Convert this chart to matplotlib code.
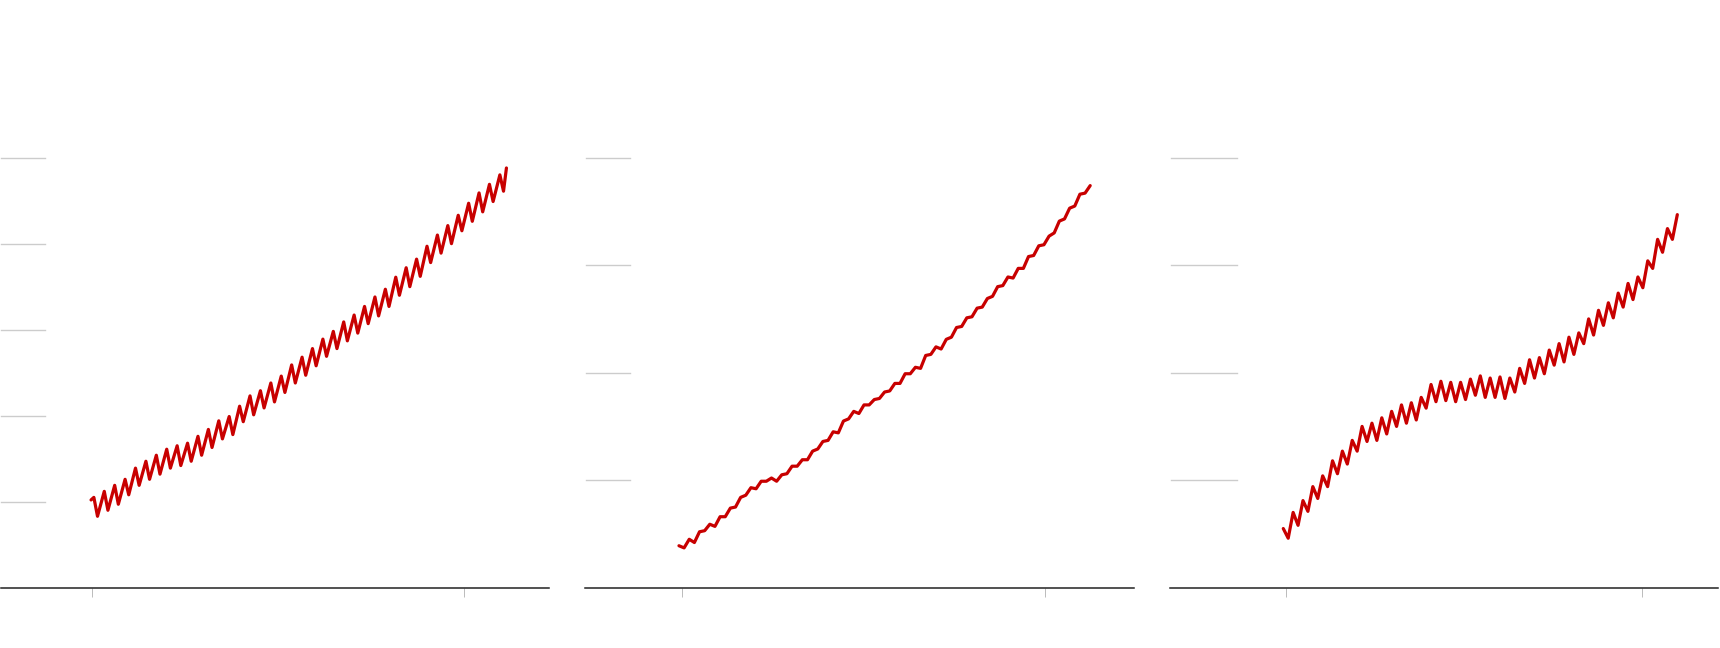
import numpy as np
import matplotlib
matplotlib.use('Agg')
import matplotlib.pyplot as plt

RED = '#c80000'
GRID = '#cccccc'

# panel 1: start, then (peak, trough) per cycle, then last point
p1_start = 10.2
p1_peaks = [10.5, 11.2, 11.9, 12.6, 13.9, 14.7, 15.4, 16.1, 16.5, 16.8,
            17.6, 18.4, 19.4, 19.9, 21.1, 22.3, 22.9, 23.8, 24.6, 25.9,
            26.8, 27.8, 28.9, 29.8, 30.9, 31.7, 32.7, 33.8, 34.7, 36.1,
            37.2, 38.2, 39.7, 41.0, 42.1, 43.3, 44.7, 45.9, 46.9, 48.0]
p1_troughs = [8.3, 9.0, 9.7, 10.8, 11.9, 12.6, 13.2, 13.9, 14.2, 14.7,
              15.4, 16.3, 17.3, 17.8, 19.3, 20.1, 20.9, 21.6, 22.7, 23.8,
              24.7, 25.8, 26.9, 27.8, 28.7, 29.6, 30.7, 31.6, 32.7, 34.0,
              35.0, 36.2, 37.8, 38.9, 40.0, 41.5, 42.6, 43.7, 44.9, 46.1]
p1_end = 48.8

# panel 2: half-year readings
p2_values = [3.9, 3.7, 4.5, 4.2, 5.2, 5.3, 5.9, 5.7, 6.6, 6.6,
             7.4, 7.5, 8.4, 8.6, 9.3, 9.2, 9.9, 9.9, 10.2, 9.9,
             10.5, 10.6, 11.3, 11.3, 11.9, 11.9, 12.7, 12.9, 13.6, 13.7,
             14.5, 14.4, 15.5, 15.7, 16.4, 16.2, 17.0, 17.0, 17.5, 17.6,
             18.2, 18.3, 19.0, 19.0, 19.9, 19.9, 20.5, 20.4, 21.6, 21.7,
             22.4, 22.2, 23.1, 23.3, 24.2, 24.3, 25.1, 25.2, 26.0, 26.1,
             26.9, 27.1, 28.0, 28.1, 28.9, 28.8, 29.7, 29.7, 30.8, 30.9,
             31.8, 31.9, 32.7, 33.0, 34.1, 34.3, 35.3, 35.5, 36.6, 36.7,
             37.4]

# panel 3: half-year readings
p3_values = [5.5, 4.6, 7.0, 5.8, 8.1, 7.1, 9.4, 8.3, 10.4, 9.4,
             11.8, 10.6, 12.7, 11.5, 13.7, 12.7, 15.0, 13.6, 15.3, 13.7,
             15.8, 14.3, 16.4, 15.0, 17.0, 15.3, 17.2, 15.6, 17.7, 16.7,
             18.9, 17.3, 19.2, 17.4, 19.1, 17.3, 19.1, 17.5, 19.4, 17.9,
             19.7, 17.7, 19.5, 17.7, 19.6, 17.6, 19.5, 18.2, 20.4, 19.0,
             21.2, 19.5, 21.4, 19.9, 22.1, 20.7, 22.7, 21.0, 23.3, 21.7,
             23.7, 22.7, 25.0, 23.5, 25.8, 24.4, 26.5, 25.1, 27.4, 26.1,
             28.3, 26.8, 28.9, 27.9, 30.4, 29.7, 32.4, 31.2, 33.4, 32.4,
             34.7]

p1_gridlines = [10, 20, 30, 40, 50]
p23_gridlines = [10, 20, 30, 40]
p1_ticks = [0.10, 35.85]
p2_ticks = [0.27, 35.56]
p3_ticks = [0.24, 36.42]


def panel1_series():
    xs = [0.0]
    ys = [p1_start]
    for k, (pk, tr) in enumerate(zip(p1_peaks, p1_troughs)):
        xs += [k + 0.27, k + 0.62]
        ys += [pk, tr]
    xs.append(39.9)
    ys.append(p1_end)
    return xs, ys


def draw_panel(ax, xs, ys, xlim, ylim, gridlines, grid_span, ticks):
    for g in gridlines:
        ax.axhline(g, xmin=grid_span[0], xmax=grid_span[1], color=GRID,
                   lw=1.0, clip_on=False, zorder=1)
    ax.plot(xs, ys, color=RED, lw=2.3, solid_joinstyle='round',
            solid_capstyle='round', zorder=3)
    ax.set_xlim(*xlim)
    ax.set_ylim(*ylim)
    for s in ['top', 'right', 'left']:
        ax.spines[s].set_visible(False)
    ax.spines['bottom'].set_color('#222222')
    ax.spines['bottom'].set_linewidth(1.1)
    ax.set_yticks([])
    ax.set_xticks(ticks)
    ax.tick_params(axis='x', length=6.5, width=0.7, color='#bbbbbb',
                   labelbottom=False)
    ax.patch.set_alpha(0)


if __name__ == "__main__":
    fig = plt.figure(figsize=(17.2, 6.48), dpi=100)
    bottom, height = 0.0931, 0.6636
    ax1 = fig.add_axes([0.00058, bottom, 0.31837, height])
    ax2 = fig.add_axes([0.34035, bottom, 0.31913, height])
    ax3 = fig.add_axes([0.68, bottom, 0.31878, height])

    x1, y1 = panel1_series()
    draw_panel(ax1, x1, y1, (-8.65, 43.95), (0, 50), p1_gridlines,
               (0.0, 0.0796), p1_ticks)

    x2 = np.arange(len(p2_values)) * 0.5
    draw_panel(ax2, x2, p2_values, (-9.10, 44.29), (0, 40), p23_gridlines,
               (0.0013, 0.081), p2_ticks)

    x3 = np.arange(len(p3_values)) * 0.5
    draw_panel(ax3, x3, p3_values, (-11.54, 44.12), (0, 40), p23_gridlines,
               (0.0026, 0.123), p3_ticks)

    fig.savefig('out.png', dpi=100, facecolor='white')
